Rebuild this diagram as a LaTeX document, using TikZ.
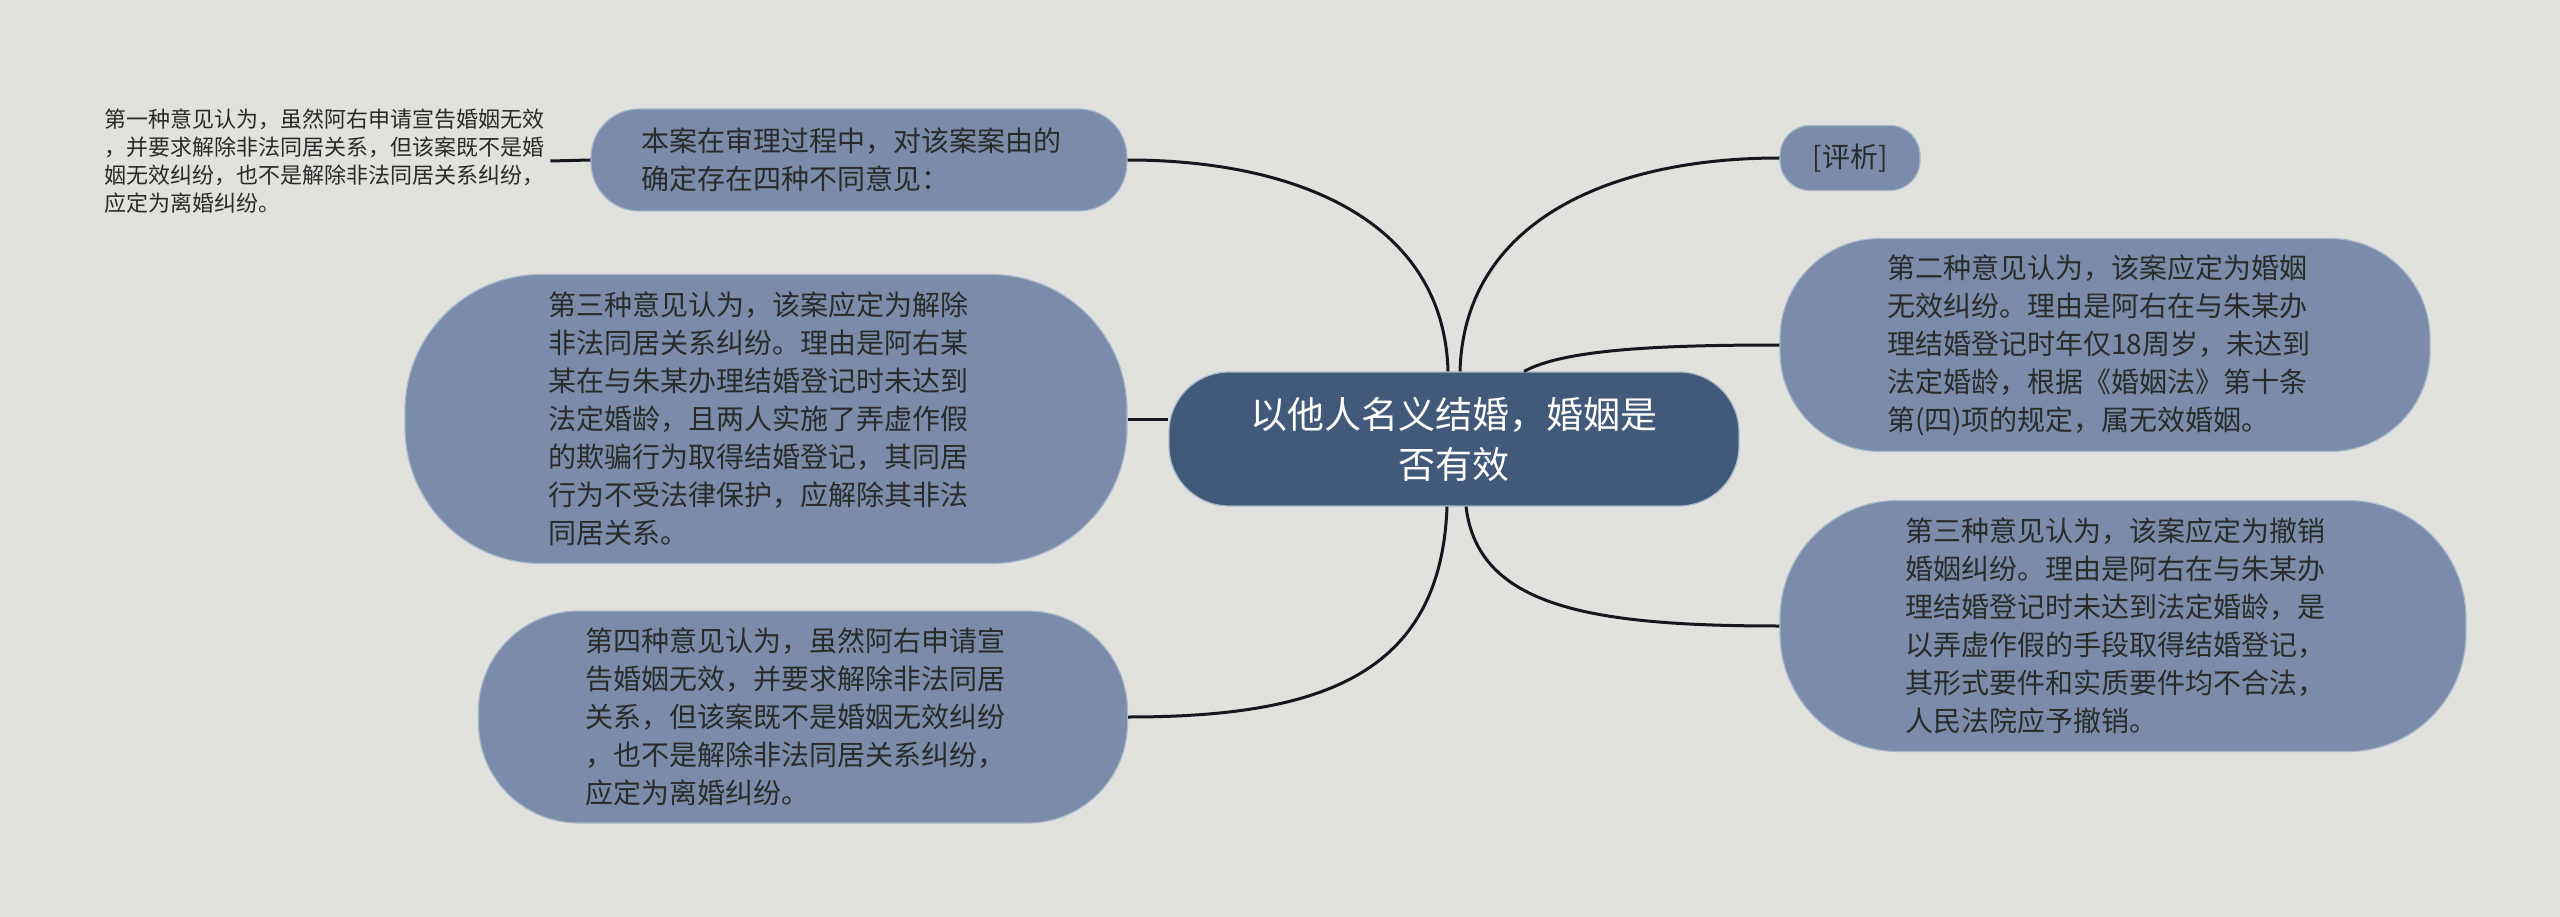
\documentclass[tikz,border=0pt]{standalone}
\usepackage{fontspec}
\setmainfont{Noto Sans CJK SC}
\usepackage{xcolor}
\usepackage{tikz}
\definecolor{bgcol}{HTML}{E1E2DD}
\definecolor{rootcol}{HTML}{425A79}
\definecolor{leafcol}{HTML}{7A8CA9}
\definecolor{leafline}{HTML}{A9B7CB}
\definecolor{txtcol}{HTML}{2A2A2A}
\definecolor{linkcol}{HTML}{15171F}

\begin{document}
\begin{tikzpicture}[x=1pt,y=-1pt,
root/.style={draw=leafline,line width=1.2pt,fill=rootcol,text=white,align=center,font=\fontsize{37}{50}\selectfont,minimum width=570pt,minimum height=134pt,rounded corners=60pt},
leaf/.style={draw=leafline,line width=1.2pt,fill=leafcol,text=txtcol,align=left,font=\fontsize{28}{38}\selectfont},
body/.style={leaf,text width=436pt},
note/.style={text=txtcol,align=left,inner sep=0pt,font=\fontsize{22}{28}\selectfont},
link/.style={draw=linkcol,line width=3pt}
]
\useasboundingbox (0,0) rectangle (2560,917);
\fill[bgcol] (0,0) rectangle (2560,917);

\node[root](c) at (1454,439) {以他人名义结婚，婚姻是\\否有效};

\node[body,minimum width=536pt,minimum height=102pt,rounded corners=48pt](tl) at (859,160) {本案在审理过程中，对该案案由的\\确定存在四种不同意见：};
\node[leaf,minimum width=140pt,minimum height=65pt,rounded corners=30pt](pj) at (1850,158) {[评析]};
\node[body,minimum width=650pt,minimum height=213pt,rounded corners=100pt](s2) at (2105,345) {第二种意见认为，该案应定为婚姻\\无效纠纷。理由是阿右在与朱某办\\理结婚登记时年仅18周岁，未达到\\法定婚龄，根据《婚姻法》第十条\\第(四)项的规定，属无效婚姻。};
\node[body,minimum width=686pt,minimum height=251pt,rounded corners=118pt](s3r) at (2123,626) {第三种意见认为，该案应定为撤销\\婚姻纠纷。理由是阿右在与朱某办\\理结婚登记时未达到法定婚龄，是\\以弄虚作假的手段取得结婚登记，\\其形式要件和实质要件均不合法，\\人民法院应予撤销。};
\node[body,minimum width=722pt,minimum height=289pt,rounded corners=136pt](s3l) at (766,419) {第三种意见认为，该案应定为解除\\非法同居关系纠纷。理由是阿右某\\某在与朱某办理结婚登记时未达到\\法定婚龄，且两人实施了弄虚作假\\的欺骗行为取得结婚登记，其同居\\行为不受法律保护，应解除其非法\\同居关系。};
\node[body,minimum width=649pt,minimum height=212pt,rounded corners=100pt](s4) at (803,717) {第四种意见认为，虽然阿右申请宣\\告婚姻无效，并要求解除非法同居\\关系，但该案既不是婚姻无效纠纷\\，也不是解除非法同居关系纠纷，\\应定为离婚纠纷。};

\node[note,anchor=west](t1) at (104,161) {第一种意见认为，虽然阿右申请宣告婚姻无效\\，并要求解除非法同居关系，但该案既不是婚\\姻无效纠纷，也不是解除非法同居关系纠纷，\\应定为离婚纠纷。};

\draw[link]([xshift=-6pt]c.north) .. controls +(-4,-150) and +(170,0) .. (tl.east);
\draw[link]([xshift=6pt]c.north) .. controls +(4,-150) and +(-170,0) .. (pj.west);
\draw[link]([xshift=70pt]c.north) .. controls +(40,-22) and +(-120,0) .. (s2.west);
\draw[link](c.west |- s3l.east) -- (s3l.east);
\draw[link]([xshift=-7pt]c.south) .. controls +(-6,170) and +(190,0) .. (s4.east);
\draw[link]([xshift=12pt]c.south) .. controls +(12,100) and +(-190,0) .. (s3r.west);

\draw[link]([xshift=6pt]t1.east) -- (tl.west);

\end{tikzpicture}
\end{document}
